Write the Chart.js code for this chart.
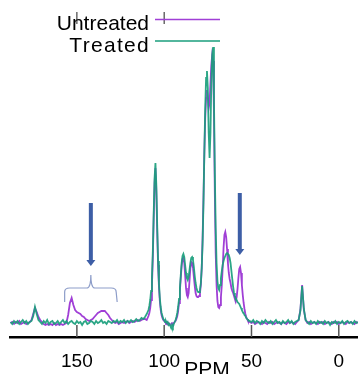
<!DOCTYPE html>
<html><head><meta charset="utf-8">
<script src="https://cdn.jsdelivr.net/npm/chart.js@4.4.1/dist/chart.umd.min.js"></script>
<style>html,body{margin:0;padding:0;background:#fff;overflow:hidden}canvas{display:block}</style>
</head><body>
<canvas id="c" width="358" height="374"></canvas>
<script>
// chemical shift (ppm), x axis runs high -> low
const ppm = [
188,187,186,185,184,183,182,181,180,179,178,177,176,175,174,173,172,171,170,169,
168,167,166,165,164,163,162,161,160,159,158,157,156,155,154,153,152,151,150,149,
148,147,146,145,144,143,142,141,140,139,138,137,136,135,134,133,132,131,130,129,
128,127,126,125,124,123,122,121,120,119,118,117,116,115,114,113,112,111,
110,109.5,109,108.5,108,107.5,107,106.5,106,105.5,105,104.5,104,103.5,103,102.5,102,101.5,101,100.5,
100,99.5,99,98.5,98,97.5,97,96.5,96,95.5,95,94.5,94,93.5,93,92.5,92,91.5,91,90.5,
90,89.5,89,88.5,88,87.5,87,86.5,86,85.5,85,84.5,84,83.5,83,82.5,82,81.5,81,80.5,
80,79.5,79,78.5,78,77.5,77,76.5,76,75.5,75,74.5,74,73.5,73,72.5,72,71.5,71,70.5,
70,69.5,69,68.5,68,67.5,67,66.5,66,65.5,65,64.5,64,63.5,63,62.5,62,61.5,61,60.5,
60,59.5,59,58.5,58,57.5,57,56.5,56,55.5,55,54.5,54,53.5,53,52.5,52,
51,50,49,48,47,46,45,44,43,42,41,40,39,38,37,36,35,34,33,32,
31,30,29,28,27,26,25,24,23,22,21,20,19,18,17,16,15,14,13,12,
11,10,9,8,7,6,5,4,3,2,1,0,-1,-2,-3,-4,-5,-6,-7,-8,-9,-10,-11
];
const untreated = [
0,1,-1,1,0,2,-1,0,1,-1, 0,1,3,9,15,11,6,3,1,-1, -2,-1,-2,-1,-2,0,-2,-1,-2,-1, -2,-1,0,8,20,25,18,13,11,10,
9,7,6,4,3,2,3,4,6,8, 10,11,12,12,12,10,8,5,3,1, 0,1,-1,0,1,0,1,2,0,1, 2,1,2,3,2,3,4,4,
3,5,7,10,15,23,38,65,105,140, 155,132,92,58,36,22,13,8,5,3,
2,1,0,1,-1,0,-1,-2,-1,0, -1,0,1,2,4,7,12,20,32,45,
57,64,65,60,48,35,28,26,30,42, 55,61,60,55,46,37,30,27,26,26,
27,30,38,55,85,125,170,205,225,233, 225,215,220,240,258,268,262,210,130,70,
38,22,16,15,18,26,38,55,75,88, 91,86,74,60,50,44,40,35,32,30,
27,24,22,26,34,45,54,56,50,38, 28,20,14,9,6,4,2,
1,0,1,-1,0,1,0,-1,1,0, -1,1,0,1,-1,0,1,0,-1,1, 0,-1,1,0,1,0,-1,1,3,13,
38,13,3,0,1,-1,0,1,0,-1, 1,0,1,-1,0,1,0,-1,1,0, 1,-1,0,1,0,-1,1,0,1,0, -1,1,0
];
const treated = [
1,-1,2,0,2,-1,1,3,0,2, -1,1,2,7,16,9,3,1,-1,2, 0,3,-1,1,2,-1,0,2,-1,1, 3,0,2,-1,1,2,0,-1,2,0,
1,-2,1,2,-1,0,2,1,-1,2, 0,1,3,0,1,-1,2,1,0,2, 1,3,0,2,1,3,0,2,1,3, 1,2,4,2,3,5,4,6,
9,11,13,17,23,32,46,72,110,145, 160,138,98,62,40,25,16,10,7,4,
3,1,2,0,1,-2,-1,-3,-5,-2, -4,-1,1,3,6,10,16,24,35,48,
60,67,69,66,58,50,45,43,46,53, 60,65,66,63,56,47,40,35,32,31,
31,33,40,55,80,120,170,215,245,252, 235,190,165,190,240,268,276,225,150,95,
60,42,35,33,38,45,52,58,62,65, 67,69,70,70,68,65,60,52,44,36,
30,27,25,23,21,20,19,17,15,13, 11,10,8,7,5,4,3,
2,1,3,0,2,1,-1,2,0,3, 1,0,2,-1,1,3,0,1,-1,2, 0,1,3,0,2,-1,1,2,3,12,
37,14,3,1,-1,2,0,1,-1,2, 0,1,-1,2,0,1,-2,1,0,2, -1,1,0,2,-1,1,2,0,1,-1, 2,0,1
];
const seriesNames = ['Untreated', 'Treated'];
const tickValues = [150, 100, 50, 0];
const tickLabels = ['150', '100', '50', '0'];
const topTickValues = [150, 100];
const axisTitle = 'PPM';
const arrowMarks = [{ppm: 142, from: 120, to: 57}, {ppm: 56.7, from: 130, to: 68}];
const braceMark = {from: 157, to: 127.5, mid: 142, base: 21, bar: 35, tip: 48};

const PURPLE = '#a03fd6';
const TEAL = '#1a9e7c';
const ARROW = '#3d5ea6';

const deco = {
  id: 'deco',
  beforeDatasetsDraw(chart) {
    const {ctx, chartArea: a, scales: {x}} = chart;
    ctx.save();
    ctx.strokeStyle = '#555'; ctx.lineWidth = 1.5;
    tickValues.forEach(v => {
      const px = x.getPixelForValue(v);
      ctx.beginPath(); ctx.moveTo(px, a.bottom); ctx.lineTo(px, a.bottom - 12); ctx.stroke();
    });
    ctx.restore();
  },
  afterDraw(chart) {
    const {ctx, scales: {x, y}} = chart;
    ctx.save();
    // top ticks
    ctx.strokeStyle = '#444'; ctx.lineWidth = 1.2;
    topTickValues.forEach(v => {
      const px = x.getPixelForValue(v);
      ctx.beginPath(); ctx.moveTo(px, 12); ctx.lineTo(px, 24); ctx.stroke();
    });
    // legend
    ctx.font = '21px "Liberation Sans", Arial, sans-serif';
    ctx.fillStyle = '#000'; ctx.textAlign = 'right'; ctx.textBaseline = 'alphabetic';
    ctx.fillText(seriesNames[0], 149, 30);
    ctx.letterSpacing = '1.3px';
    ctx.fillText(seriesNames[1], 150, 52);
    ctx.letterSpacing = '0px';
    ctx.lineWidth = 1.6;
    ctx.strokeStyle = PURPLE;
    ctx.beginPath(); ctx.moveTo(155, 19.5); ctx.lineTo(220, 19.5); ctx.stroke();
    ctx.strokeStyle = TEAL;
    ctx.beginPath(); ctx.moveTo(155, 41); ctx.lineTo(220, 41); ctx.stroke();
    // axis title
    ctx.textAlign = 'center';
    ctx.fillText(axisTitle, 207, 376);
    // arrows
    ctx.fillStyle = ARROW;
    arrowMarks.forEach(m => {
      const px = x.getPixelForValue(m.ppm);
      const y1 = y.getPixelForValue(m.from), y2 = y.getPixelForValue(m.to);
      ctx.fillRect(px - 2, y1, 4, y2 - y1 - 5);
      ctx.beginPath(); ctx.moveTo(px - 4.5, y2 - 6); ctx.lineTo(px + 4.5, y2 - 6); ctx.lineTo(px, y2); ctx.closePath(); ctx.fill();
    });
    // brace
    const xL = x.getPixelForValue(braceMark.from), xR = x.getPixelForValue(braceMark.to), xc = x.getPixelForValue(braceMark.mid);
    const yB = y.getPixelForValue(braceMark.base), yH = y.getPixelForValue(braceMark.bar), yT = y.getPixelForValue(braceMark.tip);
    ctx.strokeStyle = '#8d9dc9'; ctx.lineWidth = 1.2;
    ctx.beginPath();
    ctx.moveTo(xL, yB); ctx.lineTo(xL, yH + 4); ctx.quadraticCurveTo(xL, yH, xL + 5, yH);
    ctx.lineTo(xc - 4, yH); ctx.quadraticCurveTo(xc, yH, xc, yT);
    ctx.moveTo(xc, yT); ctx.quadraticCurveTo(xc, yH, xc + 4, yH);
    ctx.lineTo(xR - 5, yH); ctx.quadraticCurveTo(xR, yH, xR, yH + 4); ctx.lineTo(xR + 1, yB);
    ctx.stroke();
    ctx.restore();
  }
};

const toPts = arr => arr.map((v, i) => ({x: ppm[i], y: v}));

new Chart(document.getElementById('c'), {
  type: 'line',
  data: {
    datasets: [
      {label: seriesNames[0], data: toPts(untreated), borderColor: PURPLE, borderWidth: 1.8, pointRadius: 0, tension: 0, order: 2},
      {label: seriesNames[1], data: toPts(treated), borderColor: 'rgba(26,158,124,0.92)', borderWidth: 1.8, pointRadius: 0, tension: 0, order: 1}
    ]
  },
  options: {
    responsive: false, animation: false, devicePixelRatio: 1,
    layout: {padding: {left: 10, right: 0, top: 20, bottom: 0}},
    plugins: {legend: {display: false}, tooltip: {enabled: false}},
    scales: {
      x: {
        type: 'linear', reverse: true, min: -11, max: 188.3,
        afterBuildTicks: s => { s.ticks = tickValues.map(v => ({value: v})); },
        afterFit: s => { s.height = 37; },
        grid: {display: false, drawTicks: false},
        border: {display: true, color: '#000', width: 2.5},
        ticks: {
          padding: 13, color: '#000', maxRotation: 0, autoSkip: false,
          font: {family: '"Liberation Sans", Arial, sans-serif', size: 19},
          callback: (v) => { const i = tickValues.indexOf(v); return i >= 0 ? tickLabels[i] : ''; }
        }
      },
      y: {display: false, min: -14, max: 303}
    }
  },
  plugins: [deco]
});
</script>
</body></html>
